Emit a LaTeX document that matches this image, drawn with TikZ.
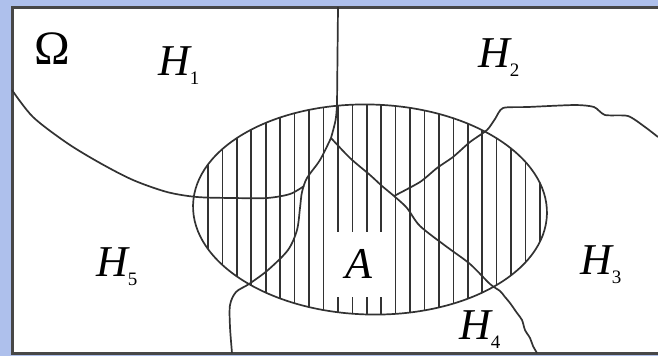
\documentclass[tikz,border=0pt]{standalone}
\usepackage{fontspec}
\setmainfont{Liberation Serif}
\definecolor{bgblue}{RGB}{174,192,236}
\definecolor{ink}{RGB}{50,50,50}
\newcommand{\bigfont}{\fontsize{44bp}{44bp}\selectfont}
\newcommand{\lbl}[2]{{\bigfont\itshape #1}{\fontsize{19bp}{19bp}\selectfont\raisebox{-9bp}{#2}}}
\begin{document}
\begin{tikzpicture}[x=1bp,y=-1bp,
  curve/.style={draw=ink,line width=1.7bp},
  hatch/.style={draw=ink,line width=1.6bp},
  lab/.style={anchor=base west,inner sep=0pt}]
\fill[bgblue] (0,0) rectangle (658,356);
\useasboundingbox (0,0) rectangle (658,356);
\draw[fill=white,draw=ink!90,line width=3bp] (12,7) rectangle (690,353);
% hatching
\begin{scope}
\clip[rotate around={-1.5:(370,209.5)}] (370,209.5) ellipse [x radius=177bp, y radius=105bp];
\foreach \i in {0,...,23} \draw[hatch] ({208+14.43*\i},90) -- ++(0,240);
\end{scope}
\node[fill=white,minimum width=58bp,minimum height=65bp,inner sep=0pt] (A) at (359,264) {\bigfont\itshape A};
% event A
\draw[curve,rotate around={-1.5:(370,209.5)}] (370,209.5) ellipse [x radius=177bp, y radius=105bp];
% junctions
\coordinate (top) at (338,7);
\coordinate (J1) at (331,138);
\coordinate (J2) at (304,186);
\coordinate (J3) at (394,196);
\coordinate (L) at (12,90);
\coordinate (R) at (658,137);
\coordinate (B1) at (232,353);
\coordinate (B2) at (537,353);
% H1 | H2
\draw[curve] (top) -- (337,105) .. controls (336,120) .. (J1);
% H1 | H5
\draw[curve] plot[smooth] coordinates {(L) (33,117) (67,143) (100,163) (133,180) (167,192) (197,197) (233,198) (267,198) (290,194) (J2)};
% down-left branch
\draw[curve] plot[smooth] coordinates {(J1) (320,160) (307,178) (302,192) (300,208) (297,230) (288,250) (268,270) (249,284) (236,292) (230,305) (230,327) (B1)};
% down-right branch
\draw[curve] plot[smooth] coordinates {(J1) (350,158) (370,175) (382,186) (J3) (407,208) (420,226) (447,247) (470,264) (490,284) (500,291) (505,297) (510,303) (517,313) (522,320) (525,330) (530,338) (533,346) (B2)};
% H2 | H3
\draw[curve] plot[smooth,tension=0.4] coordinates {(J3) (420,182) (437,168) (453,157) (470,142) (487,130) (495,119) (503,108) (528,107) (575,105) (594,107) (605,115) (628,116) (645,127) (R)};
% labels
\node[lab] (Om) at (34,64) {\fontsize{48bp}{48bp}\selectfont Ω};
\node[lab] (H1) at (158,75) {\lbl{H}{1}};
\node[lab] (H2) at (478,67) {\lbl{H}{2}};
\node[lab] (H3) at (580,274) {\lbl{H}{3}};
\node[lab] (H4) at (459,339) {\lbl{H}{4}};
\node[lab] (H5) at (96,276) {\lbl{H}{5}};
\end{tikzpicture}
\end{document}
